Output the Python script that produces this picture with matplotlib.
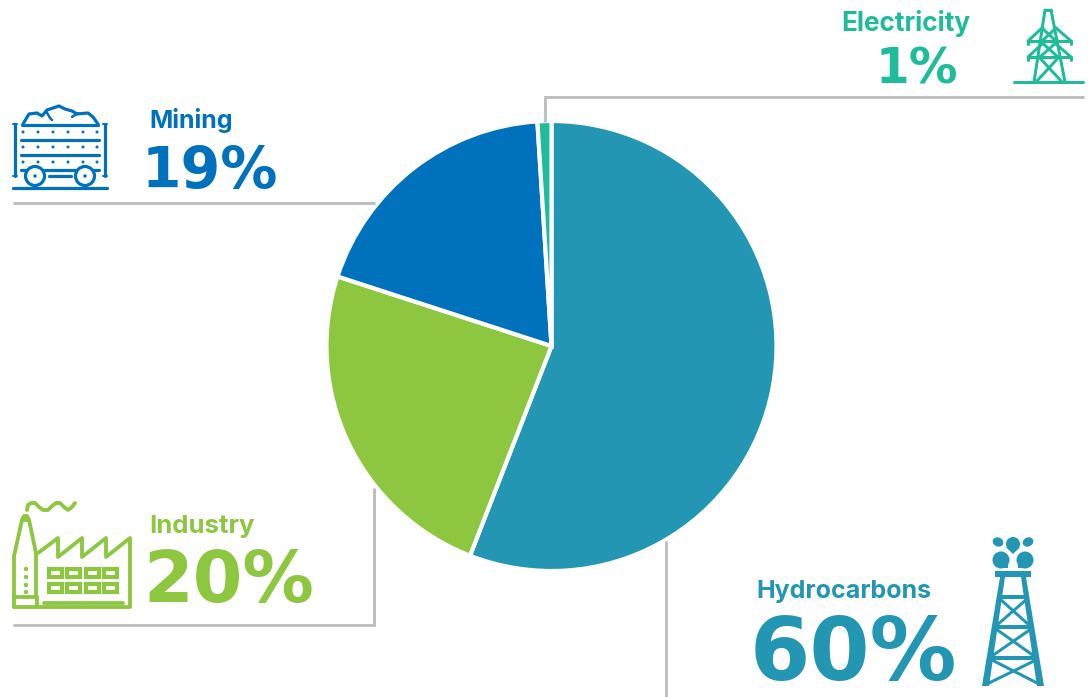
import matplotlib
matplotlib.use("Agg")
import matplotlib.pyplot as plt
from matplotlib.patches import Circle, Ellipse, Polygon, Rectangle

# wedge sizes as drawn, they don't quite follow the printed labels
sectors = ["Hydrocarbons", "Industry", "Mining", "Electricity"]
wedge_sizes = [55.9, 24.1, 19.0, 1.0]
pct_labels = ["60%", "20%", "19%", "1%"]
colors = ["#2396b3", "#8dc63f", "#0071bc", "#1fbc9c"]
grey = "#bcbec0"

W, H = 1089, 697
fig = plt.figure(figsize=(W / 100, H / 100), dpi=100)

# pie axes sits exactly on the circle
r = 225
cx, cy = 551.5, 346
ax_pie = fig.add_axes([(cx - r) / W, 1 - (cy + r) / H, 2 * r / W, 2 * r / H])
ax_pie.pie(wedge_sizes, colors=colors, startangle=90, counterclock=False,
           wedgeprops={"edgecolor": "white", "linewidth": 3})
ax_pie.set_xlim(-1, 1)
ax_pie.set_ylim(-1, 1)

# everything else is drawn in pixel coordinates
ax = fig.add_axes([0, 0, 1, 1], zorder=3)
ax.set_xlim(0, W)
ax.set_ylim(H, 0)
ax.axis("off")
ax.patch.set_alpha(0)


def line(pts, color, px=3.2):
    xs = [p[0] for p in pts]
    ys = [p[1] for p in pts]
    ax.plot(xs, ys, color=color, lw=px * 0.72, solid_capstyle="round",
            solid_joinstyle="round")


# leader lines
for pts in [[(1084, 97), (545, 97), (545, 122)],
            [(13, 203), (375, 203)],
            [(13, 625), (374, 625), (374, 488)],
            [(666, 541), (666, 697)]]:
    xs = [p[0] for p in pts]
    ys = [p[1] for p in pts]
    ax.plot(xs, ys, color=grey, lw=2.1, solid_capstyle="butt", solid_joinstyle="miter")

# labels
label_font = "Inter"
big_font = "DejaVu Sans"
ax.text(756, 598, sectors[0], color=colors[0], fontsize=18, family=label_font, weight="bold")
ax.text(149, 533, sectors[1], color=colors[1], fontsize=18.5, family=label_font, weight="bold")
ax.text(149, 128, sectors[2], color=colors[2], fontsize=18, family=label_font, weight="bold")
ax.text(841, 31, sectors[3], color=colors[3], fontsize=18.8, family=label_font, weight="bold")
ax.text(750, 680, pct_labels[0], color=colors[0], fontsize=62.5, family=big_font, weight="bold")
ax.text(143, 602, pct_labels[1], color=colors[1], fontsize=51.5, family=big_font, weight="bold")
ax.text(142, 188, pct_labels[2], color=colors[2], fontsize=41, family=big_font, weight="bold")
ax.text(876, 83, pct_labels[3], color=colors[3], fontsize=35, family=big_font, weight="bold")

# mining cart icon
c = colors[2]
line([(13, 188), (107, 188)], c)
line([(15, 124), (15, 176)], c)
line([(105, 124), (105, 176)], c)
line([(13, 124), (17, 124)], c, 2)
line([(103, 124), (107, 124)], c, 2)
line([(13, 176), (17, 176)], c, 2)
line([(103, 176), (107, 176)], c, 2)
line([(22, 125), (98, 125)], c)
line([(21, 140), (99, 140)], c)
line([(21, 155), (99, 155)], c)
line([(21, 170), (26, 170)], c)
line([(44, 170), (76, 170)], c)
line([(94, 170), (99, 170)], c)
line([(49, 176), (71, 176)], c)
for y in [132, 147, 162]:
    for x in [23, 38, 53, 68, 83, 97]:
        ax.add_patch(Circle((x, y), 1.5, color=c, lw=0))
line([(23, 124), (29, 114), (37, 113), (42, 116), (47, 110), (53, 108),
      (59, 106), (65, 109), (72, 111), (77, 114), (88, 113), (93, 117), (98, 124)], c)
line([(46, 111), (50, 118), (52, 120)], c, 2.5)
line([(72, 117), (78, 113)], c, 2.5)
for x in [35, 85]:
    ax.add_patch(Circle((x, 176), 9.5, fc="white", ec=c, lw=2.3, zorder=3))
    ax.add_patch(Circle((x, 176), 1.7, color=c, lw=0, zorder=4))

# factory icon
c = colors[1]
fw = 3.8
line([(14, 607), (130, 607), (130, 538), (106, 557), (106, 538), (82, 557), (82, 538),
      (58, 557), (58, 538), (38, 553)], c, fw)
line([(14, 607), (14, 556), (22, 520), (29, 520), (36, 553), (36, 597), (14, 597)], c, fw)
line([(37, 597), (37, 607)], c, fw)
line([(22, 520), (24, 516), (27, 516), (29, 520)], c, fw)
line([(44, 603), (123, 603)], c, fw)
line([(27, 510), (28, 505), (31, 503), (35, 503), (39, 507), (43, 510), (48, 510),
      (52, 506), (56, 503), (60, 503), (64, 507), (68, 510), (72, 507), (75, 503)], c, fw)
for y in [569, 584]:
    for x in [49, 67, 86, 104]:
        ax.add_patch(Rectangle((x, y), 13, 8, fc="white", ec=c, lw=3))
for y in [569, 577, 585, 592]:
    ax.add_patch(Circle((26, y), 2.2, color=c, lw=0))

# pylon icon
c = colors[3]
pw = 3
line([(1014, 82), (1083, 82)], c, pw)
line([(1045, 10), (1051, 10)], c, pw)
line([(1045, 10), (1034, 82)], c, pw)
line([(1051, 10), (1065, 82)], c, pw)
for y in [41, 57]:
    line([(1028, y), (1071, y)], c, pw)
    line([(1028, y), (1042, y - 13)], c, pw)
    line([(1071, y), (1056, y - 13)], c, pw)
    line([(1028, y), (1028, y + 3)], c, pw)
    line([(1071, y), (1071, y + 3)], c, pw)
line([(1042, 28), (1056, 41)], c, pw)
line([(1056, 28), (1042, 41)], c, pw)
line([(1040, 41), (1058, 57)], c, pw)
line([(1058, 41), (1040, 57)], c, pw)
line([(1039, 57), (1062, 82)], c, pw)
line([(1059, 57), (1036, 82)], c, pw)

# derrick icon
c = colors[0]
ax.add_patch(Rectangle((995, 571), 36, 6, color=c, lw=0))
ax.add_patch(Polygon([(1000, 577), (1005, 577), (989, 686), (982, 686)], color=c, lw=0))
ax.add_patch(Polygon([(1021, 577), (1026, 577), (1044, 686), (1037, 686)], color=c, lw=0))
line([(999, 597), (1027, 597)], c, 4)
line([(994, 627), (1032, 627)], c, 4)
line([(990, 658), (1037, 658)], c, 4)
line([(1000, 599), (1029, 625)], c, 3)
line([(1027, 599), (997, 625)], c, 3)
line([(996, 629), (1034, 656)], c, 3)
line([(1031, 629), (992, 656)], c, 3)
line([(992, 660), (1039, 684)], c, 3)
line([(1036, 660), (987, 684)], c, 3)
ax.add_patch(Ellipse((1013, 544), 14, 14, color=c, lw=0))
ax.add_patch(Polygon([(1006, 547), (1020, 547), (1013, 554)], color=c, lw=0))
ax.add_patch(Ellipse((998, 542), 11, 9, angle=25, color=c, lw=0))
ax.add_patch(Ellipse((1028, 542), 11, 9, angle=-25, color=c, lw=0))
ax.add_patch(Ellipse((1001, 560), 17, 17, color=c, lw=0))
ax.add_patch(Polygon([(1008, 568), (1008, 560), (1001, 568)], color=c, lw=0))
ax.add_patch(Ellipse((1025, 560), 17, 17, color=c, lw=0))
ax.add_patch(Polygon([(1018, 568), (1018, 560), (1025, 568)], color=c, lw=0))

fig.savefig("out.png", dpi=100, facecolor="white")
